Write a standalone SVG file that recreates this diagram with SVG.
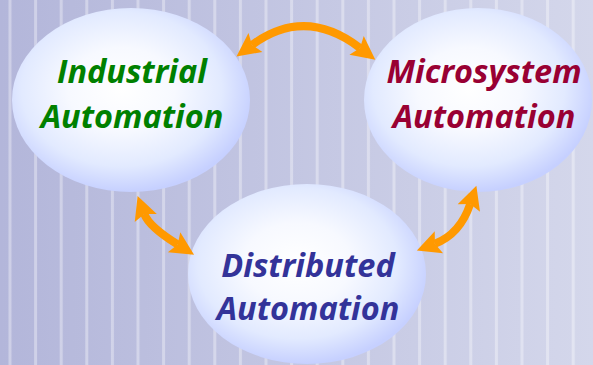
<svg xmlns="http://www.w3.org/2000/svg" width="593" height="365" viewBox="0 0 593 365">
<defs>
<linearGradient id="bg" x1="0" y1="0" x2="1" y2="0">
<stop offset="0" stop-color="#b3b6da"/>
<stop offset="1" stop-color="#d4d7eb"/>
</linearGradient>
<pattern id="stripes" x="8.5" y="0" width="25.6" height="365" patternUnits="userSpaceOnUse">
<rect x="0" y="0" width="3" height="365" fill="#ffffff" opacity="0.35"/>
</pattern>
<radialGradient id="bubble" cx="0.46" cy="0.44" r="0.56">
<stop offset="0" stop-color="#ffffff"/>
<stop offset="0.4" stop-color="#f7f9ff"/>
<stop offset="0.75" stop-color="#e2eaff"/>
<stop offset="1" stop-color="#c6d0ff"/>
</radialGradient>
<marker id="ah" markerUnits="userSpaceOnUse" markerWidth="30" markerHeight="30" refX="4" refY="0" viewBox="-2 -13 28 26" orient="auto-start-reverse" overflow="visible">
<path d="M0,-11 L22,0 L0,11 L4,0 z" fill="#ff9900"/>
</marker>
<style>
.lbl{font-family:"Open Sans","Liberation Sans",sans-serif;font-weight:bold;font-style:italic;font-size:32.5px;text-anchor:middle}
.bub{fill:url(#bubble)}
.arr{fill:none;stroke:#ff9900;stroke-width:8;marker-start:url(#ah);marker-end:url(#ah)}
</style>
</defs>
<rect width="593" height="365" fill="url(#bg)"/>
<rect width="593" height="365" fill="url(#stripes)"/>
<g id="industrial">
<ellipse class="bub" cx="131" cy="100" rx="119" ry="92"/>
<text class="lbl" x="132" y="83" fill="#008000">Industrial</text>
<text class="lbl" x="132" y="128" fill="#008000">Automation</text>
</g>
<g id="microsystem">
<ellipse class="bub" cx="478" cy="100" rx="114" ry="92"/>
<text class="lbl" x="484" y="83" fill="#990033">Microsystem</text>
<text class="lbl" x="484" y="128" fill="#990033">Automation</text>
</g>
<g id="distributed">
<ellipse class="bub" cx="307" cy="274" rx="119" ry="90"/>
<text class="lbl" x="308" y="277" fill="#333399">Distributed</text>
<text class="lbl" x="308" y="320" fill="#333399">Automation</text>
</g>
<g id="connectors">
<path class="arr" d="M252,45 Q305,6 360,48"/>
<path class="arr" d="M144.3,214 Q149,226.7 177.7,244.5"/>
<path class="arr" d="M470.2,204 Q460,234.2 434.9,243.7"/>
</g>
</svg>
